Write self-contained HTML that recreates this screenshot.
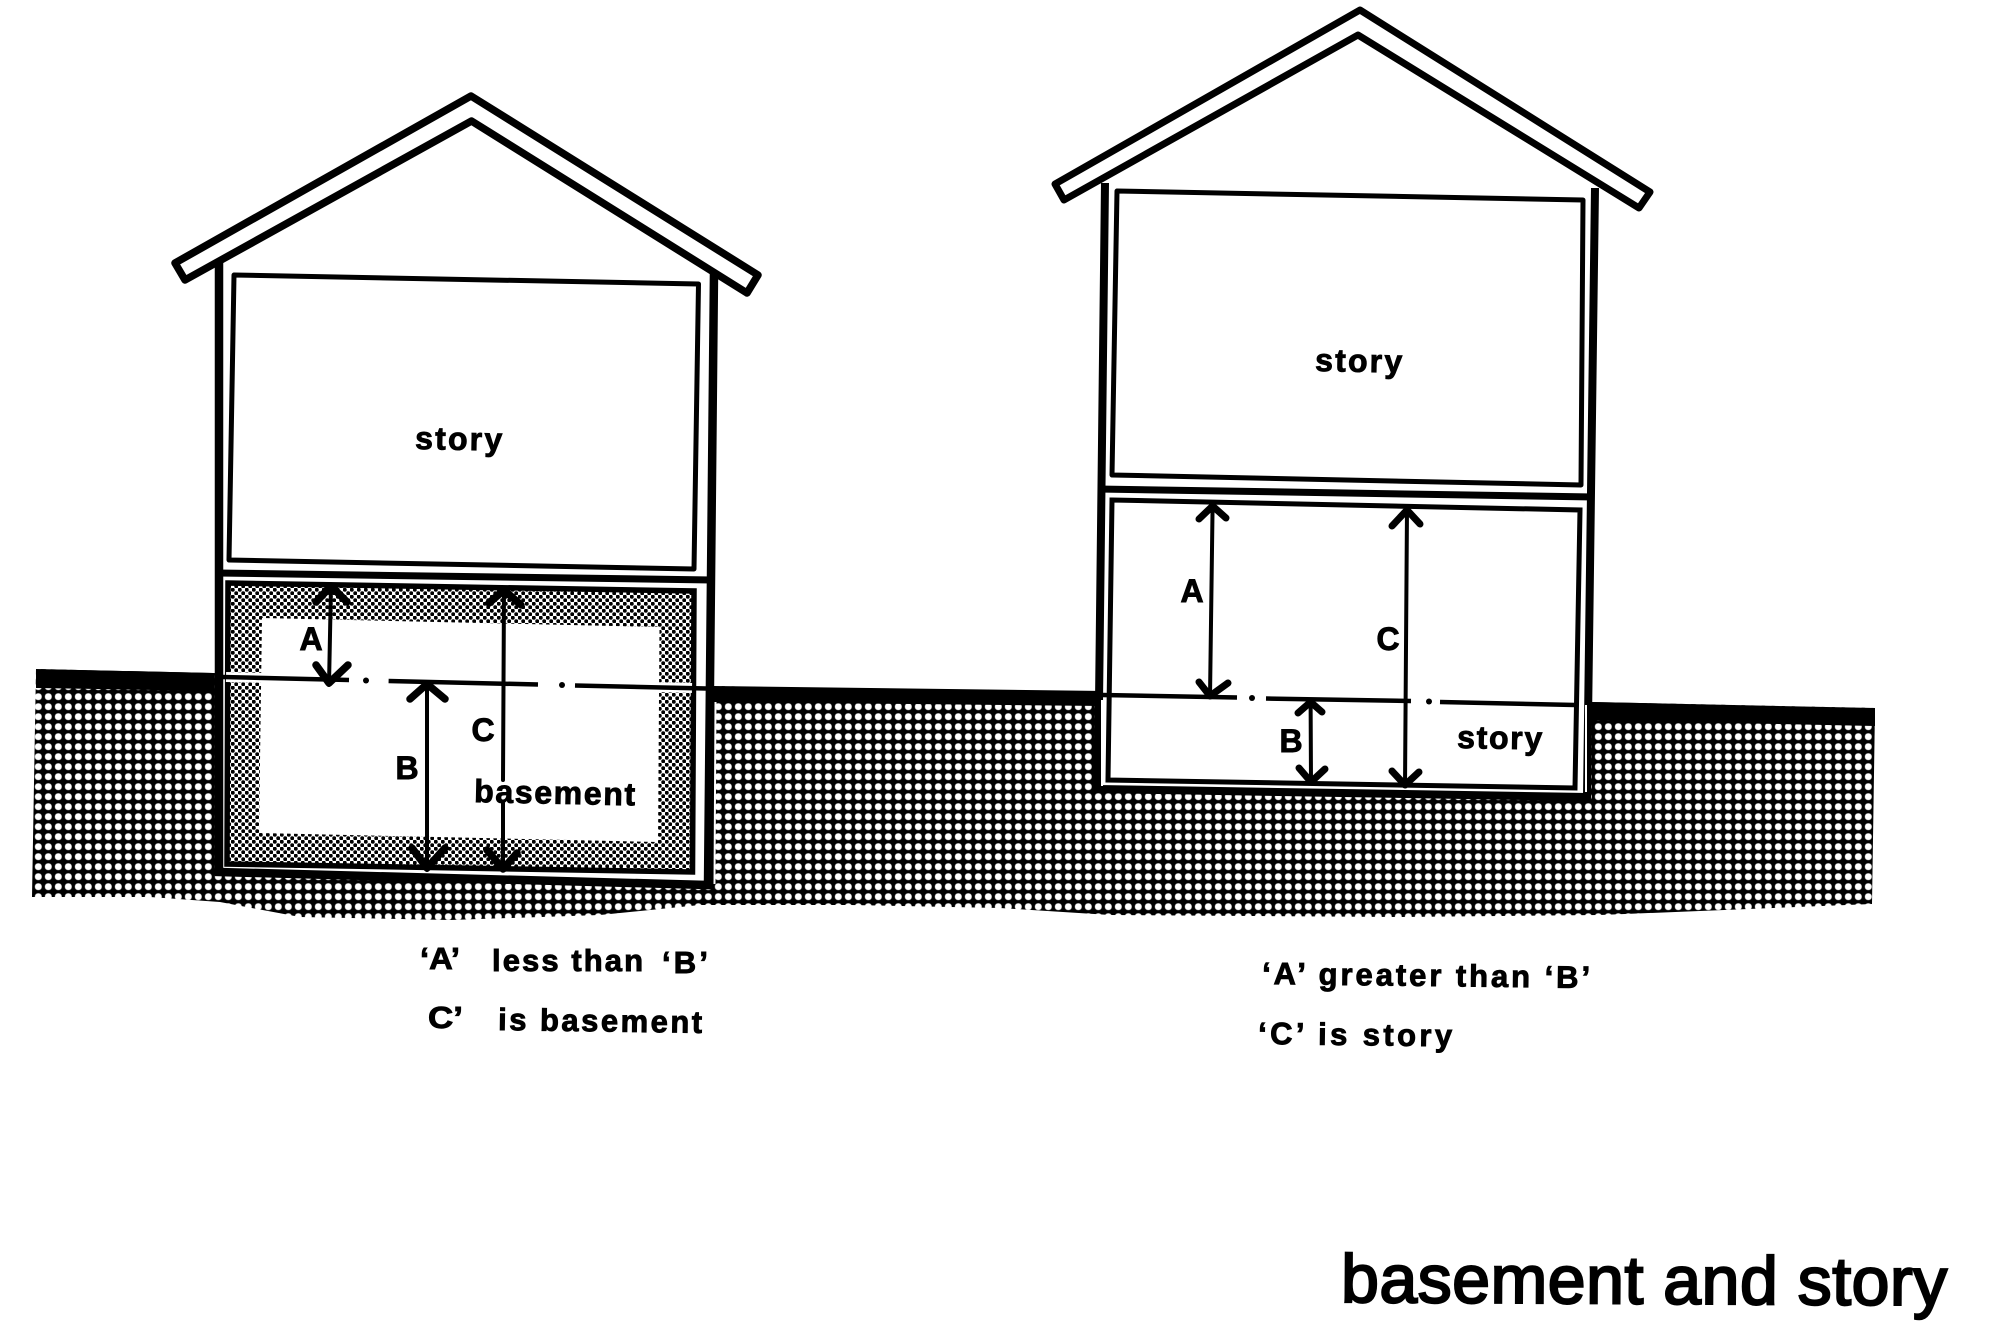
<!DOCTYPE html>
<html><head><meta charset="utf-8"><style>
html,body{margin:0;padding:0;background:#fff}
svg{display:block}
text{font-family:"Liberation Sans",sans-serif;font-weight:bold;fill:#000;stroke:#000;stroke-width:.9}
</style></head><body>
<svg width="2000" height="1325" viewBox="0 0 2000 1325" xmlns="http://www.w3.org/2000/svg">
<defs>
<pattern id="g" width="10" height="10" patternUnits="userSpaceOnUse" patternTransform="translate(3.3 1.7)">
<rect width="10" height="10" fill="#000"/><rect x="1.6" y="1.6" width="6.8" height="6.8" rx="3" fill="#fff"/>
</pattern>
<pattern id="h" width="7" height="7" patternUnits="userSpaceOnUse">
<rect width="7" height="7" fill="#fff"/><circle cx="1.75" cy="1.75" r="2" fill="#000"/><circle cx="5.25" cy="5.25" r="2" fill="#000"/>
</pattern>
</defs>
<rect width="2000" height="1325" fill="#fff"/>

<!-- ground -->
<path d="M36,669 L213,673 L714,686 L1105,694 L1591,702 L1875,708 L1872,904 L1600,915 L1400,917 L1110,915 L1000,908 L850,905 L700,905 L600,915 L450,920 L300,917 L220,902 L150,897 L32,897 Z" fill="url(#g)"/>
<path d="M36,669 L213,673 L213,691 L36,688 Z M714,686 L1105,691 L1105,706 L714,702 Z M1591,702 L1875,708 L1875,726 L1591,720 Z" fill="#000"/>

<!-- LEFT HOUSE -->
<path d="M219,262 L219,872 L708,885 L714,272" fill="#fff" stroke="#000" stroke-width="8.5"/>
<path d="M715.5,702 L714.5,884" stroke="#fff" stroke-width="2" fill="none"/>
<path d="M234,275 L698.5,284 L694,569 L229,560 Z" fill="#fff" stroke="#000" stroke-width="5" stroke-linejoin="round"/>
<path d="M217,573 L712,580" stroke="#000" stroke-width="7" fill="none"/>
<path d="M228,583 L694,591 L692.5,872 L227,864 Z" fill="url(#h)" stroke="#000" stroke-width="5.5"/>
<path d="M262,618 L659.5,627 L658,842 L259,833 Z" fill="#fff"/>
<path d="M226,677 L692,688" stroke="#fff" stroke-width="10" fill="none"/>
<path d="M222.6,677 L349,680 M388.6,681 L538,684.5 M575,685.5 L706,688.5" stroke="#000" stroke-width="4.5" fill="none"/>
<circle cx="366" cy="680.5" r="3"/><circle cx="562" cy="685" r="3"/>
<path d="M175,263 L471,96 L758,275 L747,293 L471.5,121 L185,280 Z" fill="#fff" stroke="#000" stroke-width="7.5" stroke-linejoin="round"/>

<g fill="none" stroke="#000" stroke-linecap="round" stroke-linejoin="round">
<path d="M331,585 L329,685 M427,682 L427,870 M504,589 L503,780 M503,803 L503,870" stroke-width="4"/>
<path d="M316,602 L331,586 L347,602 M316,665 L329,683 L348,665 M410,699 L427,684 L445,699 M412,848 L427,868 L445,848 M489,603 L504,590 L521,605 M487,850 L503,869 L517,853" stroke-width="7.5"/>
</g>

<!-- RIGHT HOUSE -->
<path d="M1105,183 L1098,789 L1587,797 L1595,188" fill="#fff" stroke="#000" stroke-width="8"/>
<path d="M1102,700 L1102,786 M1586,705 L1586,792" stroke="#fff" stroke-width="2" fill="none"/>
<path d="M1117,191 L1583,200 L1581,485 L1112,475 Z" fill="#fff" stroke="#000" stroke-width="5" stroke-linejoin="round"/>
<path d="M1098,489 L1594,497" stroke="#000" stroke-width="7" fill="none"/>
<path d="M1112,500 L1580,510 L1575,788 L1108,780 Z" fill="#fff" stroke="#000" stroke-width="5"/>
<path d="M1102,695 L1237,697.5 M1266,698.5 L1411,701 M1440,702 L1575,705" stroke="#000" stroke-width="4.5" fill="none"/>
<circle cx="1252" cy="698" r="3"/><circle cx="1429" cy="701.5" r="3"/>
<path d="M1055,184 L1360,10 L1650,192 L1639,208 L1358,35 L1064,200 Z" fill="#fff" stroke="#000" stroke-width="7" stroke-linejoin="round"/>

<g fill="none" stroke="#000" stroke-linecap="round" stroke-linejoin="round">
<path d="M1212.6,505 L1210,697 M1407,509 L1405,786 M1310.6,701 L1311,783" stroke-width="4"/>
<path d="M1199,519 L1212.6,506 L1226,518 M1199,682 L1210,696 L1228,683 M1392,526 L1407,510 L1420,524 M1392,771 L1405,785 L1419,772 M1298,713 L1310.6,702 L1322,712 M1299,768 L1311,782 L1325,769" stroke-width="7"/>
</g>

<!-- labels -->
<text x="415" y="449" font-size="32" textLength="87" lengthAdjust="spacing" transform="rotate(1 415 449)">story</text>
<text x="1315" y="371" font-size="32" textLength="87" lengthAdjust="spacing" transform="rotate(1 1315 371)">story</text>
<text x="1457" y="748" font-size="32" textLength="85" lengthAdjust="spacing" transform="rotate(1 1457 748)">story</text>
<text x="474" y="802" font-size="32" textLength="161" lengthAdjust="spacing" transform="rotate(1.2 474 802)">basement</text>
<text x="311" y="650" font-size="32" text-anchor="middle">A</text>
<text x="407" y="779" font-size="32" text-anchor="middle">B</text>
<text x="483" y="741" font-size="32" text-anchor="middle">C</text>
<text x="1192" y="602" font-size="32" text-anchor="middle">A</text>
<text x="1291" y="752" font-size="32" text-anchor="middle">B</text>
<text x="1388" y="650" font-size="32" text-anchor="middle">C</text>

<text x="420" y="969" font-size="31" textLength="40" lengthAdjust="spacingAndGlyphs">‘A’</text>
<text x="492" y="971" font-size="31" textLength="151" lengthAdjust="spacing">less than</text>
<text x="662" y="973" font-size="31" textLength="46" lengthAdjust="spacing">‘B’</text>
<text x="428" y="1028" font-size="31" textLength="35" lengthAdjust="spacingAndGlyphs">C’</text>
<text x="498" y="1030" font-size="31" textLength="204" lengthAdjust="spacing" transform="rotate(.8 498 1030)">is basement</text>
<text x="1262" y="984" font-size="31" textLength="328" lengthAdjust="spacing" transform="rotate(.7 1262 984)">‘A’ greater than ‘B’</text>
<text x="1258" y="1044" font-size="31" textLength="194" lengthAdjust="spacing" transform="rotate(.7 1258 1044)">‘C’ is story</text>
<text x="1341" y="1302" font-size="68" textLength="606" lengthAdjust="spacing" style="font-weight:normal;stroke-width:2.2" transform="rotate(.3 1341 1302)">basement and story</text>
</svg>
</body></html>
